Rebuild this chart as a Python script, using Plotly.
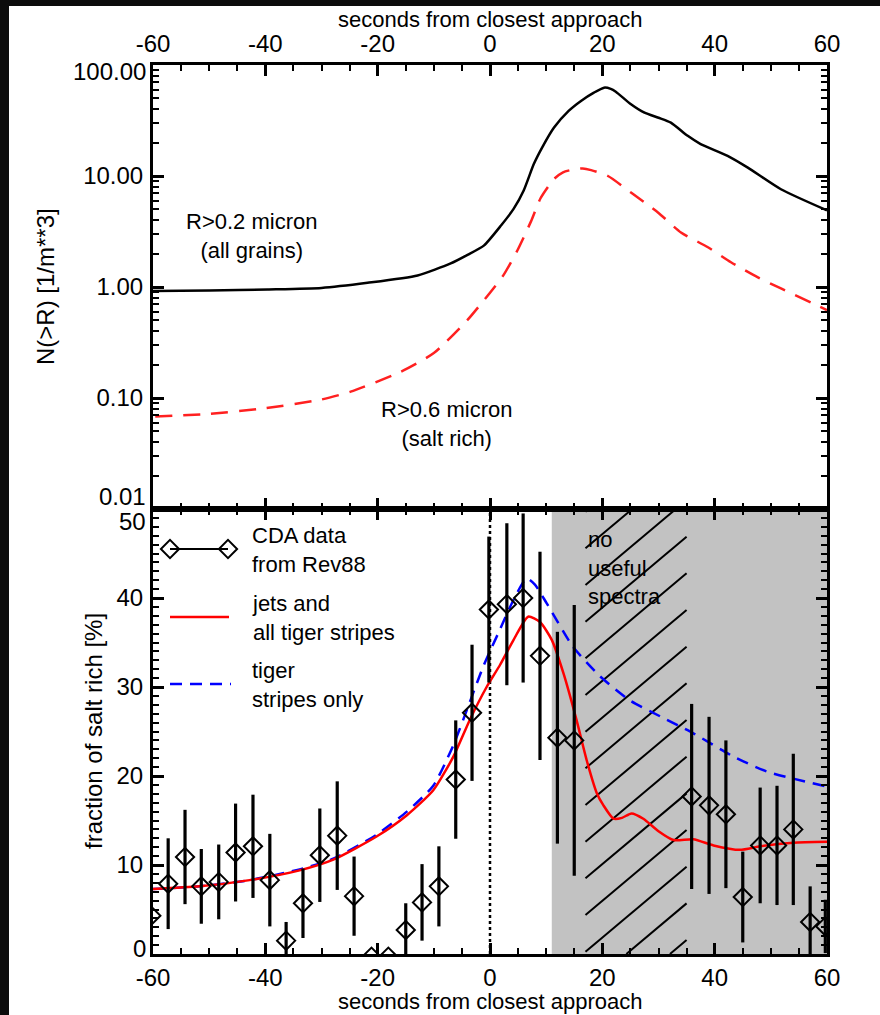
import plotly.graph_objects as go

# ---------------- data ----------------
# top panel: cumulative number density N(>R) [1/m**3]
T_ALL = [-60, -50, -39.6, -30, -21.8, -12.9, -7, -4, -1.1, 2.0, 4.2, 6.0, 7.8, 9.3, 11.4, 14.0,
         16.2, 18.5, 20.3, 21.5, 22.4, 25.1, 27.5, 30, 32.2, 35.2, 37.5, 42.3, 45.9, 51.8, 60]
N_ALL = [0.92, 0.93, 0.95, 0.98, 1.09, 1.27, 1.63, 1.95, 2.36, 3.6, 5.05, 7.4, 12.8, 18.1, 27.3, 38.6,
         47.5, 56.4, 62.5, 61.0, 57.5, 44.3, 37.2, 33.5, 30.3, 23.0, 19.4, 15.2, 11.9, 7.6, 4.9]

T_SALT = [-59.6, -50, -40.3, -30, -24.8, -15.9, -10, -4.0, -0.9, 0.6, 2.4, 4.8, 7.3, 9.0, 11.4, 13.0,
          15.0, 16.5, 18.0, 21.0, 25.1, 29.9, 34.0, 38.8, 42.9, 47.7, 51.8, 60]
N_SALT = [0.068, 0.072, 0.0805, 0.097, 0.114, 0.172, 0.254, 0.505, 0.78, 0.97, 1.28, 2.1, 3.9, 6.3,
          9.4, 10.8, 11.5, 11.7, 11.3, 10.0, 7.1, 4.7, 3.1, 2.28, 1.67, 1.22, 0.97, 0.62]

# bottom panel: fraction of salt rich grains [%]
T_PTS = [-60.3, -57.3, -54.3, -51.4, -48.3, -45.3, -42.2, -39.2, -36.3, -33.3, -30.3, -27.2, -24.2,
         -21.1, -18.1, -15.0, -12.1, -9.1, -6.1, -3.2, -0.2, 3.0, 5.9, 8.9, 12.0, 15.0,
         35.9, 39.0, 42.0, 45.0, 48.1, 51.1, 54.0, 57.0, 59.7]
F_PTS = [4.3, 7.9, 10.9, 7.6, 8.1, 11.4, 12.1, 8.3, 1.5, 5.7, 11.1, 13.3, 6.5,
         -0.3, -0.3, 2.7, 5.8, 7.6, 19.6, 27.1, 38.7, 39.3, 40.0, 33.5, 24.3, 24.0,
         17.7, 16.7, 15.7, 6.4, 12.2, 12.2, 14.0, 3.6, 3.1]
E_PTS = [5.0, 5.1, 5.3, 4.2, 4.2, 5.5, 5.8, 5.2, 2.1, 3.9, 5.25, 6.1, 4.45,
         0.0, 0.0, 3.0, 4.3, 4.5, 6.65, 7.65, 8.2, 9.1, 9.5, 11.7, 11.9, 15.2,
         10.4, 9.95, 8.3, 5.1, 6.5, 6.7, 8.5, 4.0, 3.0]

T_JETS = [-60, -51.7, -42.8, -33.9, -27.9, -20.2, -14.8, -10.1, -6.5, -3.6, -0.6, 1.8, 4.2, 6.8,
          8.9, 11.0, 13.1, 15.4, 17.2, 19.0, 20.2, 22.0, 23.5, 25.2, 27.3, 30, 32.7, 36.2, 39.8,
          44.5, 48.1, 54.0, 60]
F_JETS = [7.3, 7.6, 8.3, 9.4, 10.6, 13.2, 15.6, 18.4, 22.2, 26.3, 30.0, 32.5, 35.3, 37.9,
          37.3, 35.3, 31.5, 26.3, 21.8, 18.1, 16.7, 15.2, 15.3, 15.8, 15.2, 13.8, 12.8, 12.9, 12.2,
          11.7, 12.1, 12.5, 12.6]

T_TIGER = [-60, -51.7, -42.8, -33.9, -27.9, -20.2, -14.8, -10.1, -6.5, -3.6, -1.2, 1.8, 4.2, 6.5,
           8.0, 10.1, 14.8, 19.6, 24.9, 30.3, 36.2, 43.3, 49.3, 60]
F_TIGER = [7.3, 7.6, 8.3, 9.5, 10.7, 13.4, 16.0, 18.9, 23.5, 28.3, 32.3, 36.5, 39.8, 42.2,
           41.5, 39.4, 34.5, 31.2, 28.5, 26.7, 24.8, 22.2, 20.5, 18.8]

X_TICKS = [-60, -40, -20, 0, 20, 40, 60]
X_TICKTEXT = ["-60", "-40", "-20", "0", "20", "40", "60"]
N_TICKS = [0.01, 0.1, 1, 10, 100]
N_TICKTEXT = ["0.01", "0.10", "1.00", "10.00", "100.00"]
F_TICKS = [0, 10, 20, 30, 40, 50]
F_TICKTEXT = ["0", "10", "20", "30", "40", "50"]

NO_SPECTRA = (11, 60)     # shaded interval [s]
HATCH = (17, 35)          # hatched interval [s]

# ---------------- geometry (pixels) ----------------
W, H = 880, 1015
L, R, T, B = 153, 827, 65, 954
MID = 509
FONT = "Liberation Sans, Arial, Helvetica, sans-serif"


def fx(xp):
    return (xp - L) / (R - L)


def fy(yp):
    return (B - yp) / (B - T)


def tx(xp):  # pixel -> seconds
    return -60 + (xp - L) / (R - L) * 120


def vy(yp):  # pixel -> percent (bottom panel)
    return (B - yp) / (B - MID) * 50


split = (B - MID) / (B - T)

fig = go.Figure()

# top panel curves
fig.add_trace(go.Scatter(x=T_ALL, y=N_ALL, xaxis="x2", yaxis="y2", mode="lines",
                         line=dict(color="black", width=2.5, shape="spline", smoothing=0.6),
                         hoverinfo="skip"))
fig.add_trace(go.Scatter(x=T_SALT, y=N_SALT, xaxis="x2", yaxis="y2", mode="lines",
                         line=dict(color="#ff2020", width=2.5, dash="17px,11px", shape="spline",
                                   smoothing=0.6),
                         hoverinfo="skip"))

# hatch lines in the bottom panel
hx, hy = [], []
x0, x1 = HATCH
rise, step, yref0 = 9.55, 4.12, 29.1
s = rise / (x1 - x0)
for k in range(-12, 8):
    yl = yref0 + k * step
    xs = max(x0, x0 + (0 - yl) / s)
    xe = min(x1, x0 + (50 - yl) / s)
    if xs < xe:
        hx += [xs, xe, None]
        hy += [yl + s * (xs - x0), yl + s * (xe - x0), None]
fig.add_trace(go.Scatter(x=hx, y=hy, mode="lines", line=dict(color="black", width=2),
                         hoverinfo="skip"))

# model curves
fig.add_trace(go.Scatter(x=T_TIGER, y=F_TIGER, mode="lines",
                         line=dict(color="#0000ff", width=2.5, dash="12px,8px", shape="spline",
                                   smoothing=0.6), hoverinfo="skip"))
fig.add_trace(go.Scatter(x=T_JETS, y=F_JETS, mode="lines",
                         line=dict(color="#ff0000", width=2.5, shape="spline", smoothing=0.6),
                         hoverinfo="skip"))

# CDA data
fig.add_trace(go.Scatter(x=T_PTS, y=F_PTS, mode="markers",
                         marker=dict(symbol="diamond-open", size=14, color="black",
                                     line=dict(color="black", width=2)),
                         error_y=dict(type="data", array=E_PTS, visible=True, color="black",
                                      thickness=3.2, width=0),
                         hoverinfo="skip"))

# legend samples (drawn inside the bottom panel)
fig.add_trace(go.Scatter(x=[tx(170), tx(228)], y=[vy(549), vy(549)], mode="lines+markers",
                         line=dict(color="black", width=2),
                         marker=dict(symbol="diamond-open", size=14, color="black",
                                     line=dict(color="black", width=2)),
                         hoverinfo="skip"))
fig.add_trace(go.Scatter(x=[tx(170), tx(229)], y=[vy(617), vy(617)], mode="lines",
                         line=dict(color="#ff0000", width=2.5), hoverinfo="skip"))
fig.add_trace(go.Scatter(x=[tx(170), tx(231)], y=[vy(684), vy(684)], mode="lines",
                         line=dict(color="#0000ff", width=2.5, dash="12px,8px"),
                         hoverinfo="skip"))

axis_common = dict(showline=True, linecolor="black", linewidth=3, mirror="allticks",
                   ticks="inside", tickcolor="black", tickwidth=2.5, ticklen=11,
                   showgrid=False, zeroline=False,
                   tickfont=dict(family=FONT, size=24, color="black"))

log_minor = [m * 10 ** e for e in range(-2, 2) for m in range(2, 10)]


def inner(labels):
    # end labels are drawn as annotations (nudged inward, as in the original)
    return [""] + list(labels[1:-1]) + [""]


fig.update_layout(
    width=W, height=H,
    margin=dict(l=L, r=W - R, t=T, b=H - B, pad=0),
    paper_bgcolor="white", plot_bgcolor="white",
    showlegend=False,
    font=dict(family=FONT, size=24, color="black"),
    xaxis=dict(axis_common, domain=[0, 1], anchor="y", range=[-60, 60], side="bottom",
               tickvals=X_TICKS, ticktext=X_TICKTEXT, ticklabelstandoff=0,
               minor=dict(dtick=5, tick0=0, ticks="inside", ticklen=6, tickwidth=2,
                          tickcolor="black")),
    yaxis=dict(axis_common, domain=[0, split], anchor="x", range=[0, 50],
               tickvals=F_TICKS, ticktext=inner(F_TICKTEXT), ticklabelstandoff=2,
               minor=dict(dtick=1, tick0=0, ticks="inside", ticklen=6, tickwidth=2,
                          tickcolor="black")),
    xaxis2=dict(axis_common, domain=[0, 1], anchor="y2", range=[-60, 60], side="top",
                tickvals=X_TICKS, ticktext=X_TICKTEXT, ticklabelstandoff=0,
                minor=dict(dtick=5, tick0=0, ticks="inside", ticklen=6, tickwidth=2,
                           tickcolor="black")),
    yaxis2=dict(axis_common, domain=[split, 1], anchor="x2", type="log", range=[-2, 2],
                tickvals=N_TICKS, ticktext=inner(N_TICKTEXT), ticklabelstandoff=2,
                minor=dict(tickmode="array", tickvals=log_minor, ticks="inside", ticklen=6,
                           tickwidth=2, tickcolor="black")),
)

shapes = [
    dict(type="rect", xref="x", yref="y", x0=NO_SPECTRA[0], x1=NO_SPECTRA[1], y0=0, y1=50,
         fillcolor="#c2c2c2", line=dict(width=0), layer="below"),
    dict(type="line", xref="x", yref="y", x0=0, x1=0, y0=0, y1=50,
         line=dict(color="black", width=2.5, dash="dot"), layer="below"),
    # dark slide frame around the figure
    dict(type="rect", xref="paper", yref="paper", x0=fx(0), x1=fx(9), y0=fy(H), y1=fy(0),
         fillcolor="#0c0c0c", line=dict(width=0), layer="above"),
    dict(type="rect", xref="paper", yref="paper", x0=fx(0), x1=fx(W), y0=fy(6), y1=fy(0),
         fillcolor="#0c0c0c", line=dict(width=0), layer="above"),
]
fig.update_layout(shapes=shapes)


def txt(text, xp, yp, anchor="center", angle=0, size=24, align="center"):
    return dict(text=text, xref="paper", yref="paper", x=fx(xp), y=fy(yp),
                xanchor=anchor, yanchor="middle", showarrow=False, textangle=angle,
                align=align, font=dict(family=FONT, size=size, color="black"), borderpad=0)


annotations = [
    txt("seconds from closest approach", 490, 20, size=22),
    txt("seconds from closest approach", 490, 1002, size=22),
    txt("N(>R) [1/m**3]", 45, 287, angle=-90),
    txt("fraction of salt rich [%]", 93, 731, angle=-90),
    # y-axis end labels
    txt(N_TICKTEXT[-1], 147, 72, "right"),
    txt(N_TICKTEXT[0], 147, 496, "right"),
    txt(F_TICKTEXT[-1], 147, 521, "right"),
    txt(F_TICKTEXT[0], 147, 948, "right"),
    # curve labels
    txt("R>0.2 micron<br>(all grains)", 251, 236, size=22),
    txt("R>0.6 micron<br>(salt rich)", 446, 424, size=22),
    # legend
    txt("CDA data<br>from Rev88", 251, 550, "left", size=22, align="left"),
    txt("jets and<br>all tiger stripes", 251, 618, "left", size=22, align="left"),
    txt("tiger<br>stripes only", 251, 685, "left", size=22, align="left"),
    txt("no<br>useful<br>spectra", 587, 568, "left", size=22, align="left"),
]
fig.update_layout(annotations=annotations)

fig.write_html("out.html")
